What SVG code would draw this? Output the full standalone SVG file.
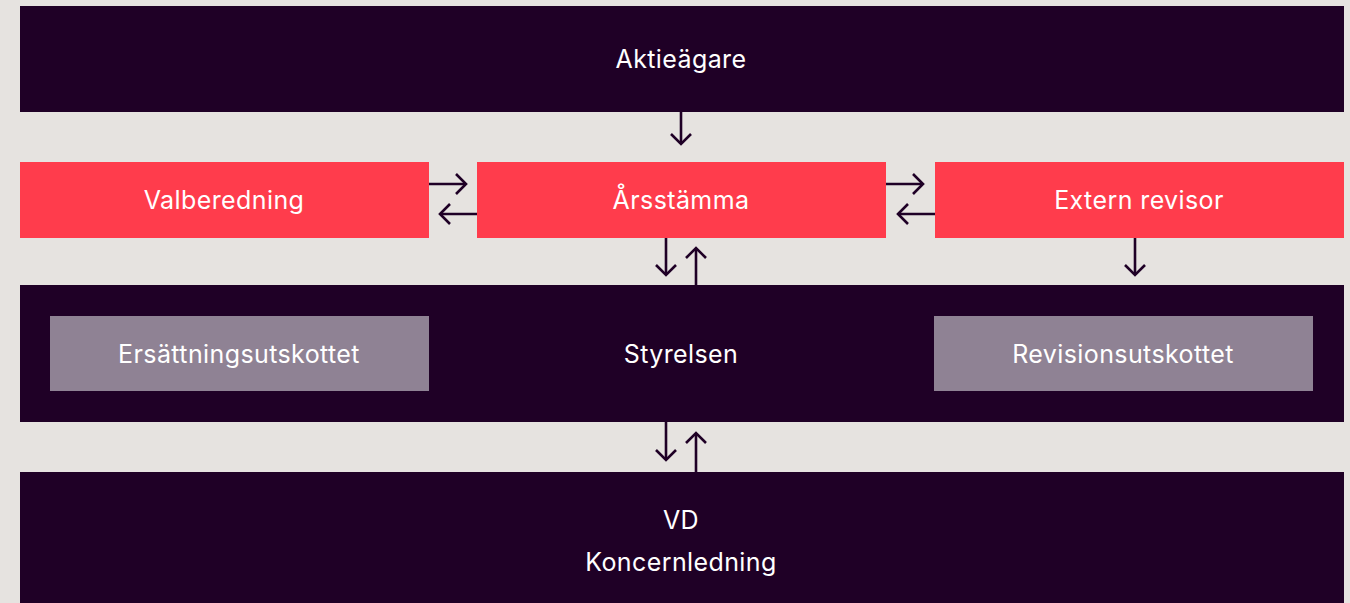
<svg xmlns="http://www.w3.org/2000/svg" width="1350" height="603" viewBox="0 0 1350 603">
<defs>
<style>
.dark{fill:#1f0026}
.red{fill:#ff3c4c}
.gray{fill:#8f8294}
text{font-family:Inter,"Noto Sans",sans-serif;font-size:25px;letter-spacing:0.4px;fill:#ffffff;text-anchor:middle;dominant-baseline:central}
.c line,.c polyline{stroke:#1f0026;stroke-width:2.6;fill:none}
</style>
</defs>
<rect x="0" y="0" width="1350" height="603" fill="#e6e3e0"/>
<g id="aktieagare"><rect class="dark" x="20" y="6" width="1324" height="106"/><text x="681" y="59">Aktieägare</text></g>
<g id="valberedning"><rect class="red" x="20" y="162" width="409" height="76"/><text x="224" y="200">Valberedning</text></g>
<g id="arsstamma"><rect class="red" x="477" y="162" width="409" height="76"/><text x="681" y="200">Årsstämma</text></g>
<g id="extern-revisor"><rect class="red" x="935" y="162" width="409" height="76"/><text x="1139" y="200">Extern revisor</text></g>
<g id="styrelsen"><rect class="dark" x="20" y="285" width="1324" height="137"/><text x="681" y="354">Styrelsen</text></g>
<g id="ersattningsutskottet"><rect class="gray" x="50" y="316" width="379" height="75"/><text x="239" y="354">Ersättningsutskottet</text></g>
<g id="revisionsutskottet"><rect class="gray" x="934" y="316" width="379" height="75"/><text x="1123" y="354">Revisionsutskottet</text></g>
<g id="vd"><rect class="dark" x="20" y="472" width="1324" height="131"/><text x="681" y="520">VD</text><text x="681" y="562">Koncernledning</text></g>
<g class="c" id="connectors">
<line x1="681" y1="112" x2="681" y2="144"/><polyline points="671,134 681,144 691,134"/>
<line x1="429" y1="184" x2="466" y2="184"/><polyline points="456,174 466,184 456,194"/>
<line x1="477" y1="214" x2="440" y2="214"/><polyline points="450,204 440,214 450,224"/>
<line x1="886" y1="184" x2="923" y2="184"/><polyline points="913,174 923,184 913,194"/>
<line x1="935" y1="214" x2="898" y2="214"/><polyline points="908,204 898,214 908,224"/>
<line x1="666" y1="238" x2="666" y2="275"/><polyline points="656,265 666,275 676,265"/>
<line x1="696" y1="285" x2="696" y2="248"/><polyline points="686,258 696,248 706,258"/>
<line x1="1135" y1="238" x2="1135" y2="275"/><polyline points="1125,265 1135,275 1145,265"/>
<line x1="666" y1="422" x2="666" y2="460"/><polyline points="656,450 666,460 676,450"/>
<line x1="696" y1="472" x2="696" y2="433"/><polyline points="686,443 696,433 706,443"/>
</g>
</svg>
